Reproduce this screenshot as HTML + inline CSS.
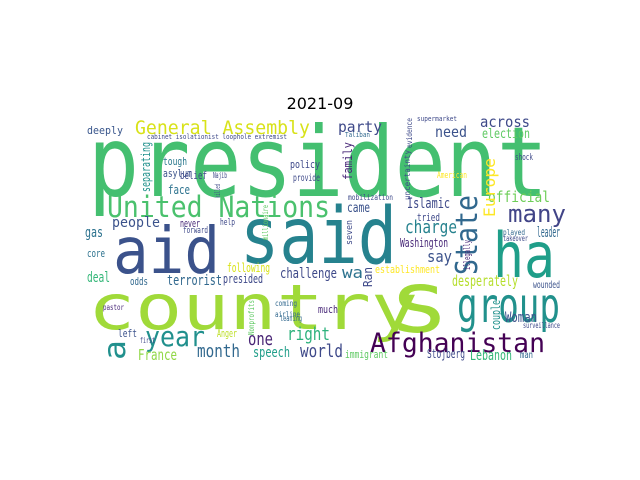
<!DOCTYPE html>
<html><head><meta charset="utf-8"><style>
html,body{margin:0;padding:0;background:#fff;width:640px;height:480px;overflow:hidden}
svg text{font-family:"DejaVu Sans Mono","Liberation Mono",monospace}
</style></head><body>
<svg id="chart" width="640" height="480" xmlns="http://www.w3.org/2000/svg">
<rect x="0" y="0" width="640" height="480" fill="#fff"/>
<text x="320" y="109" text-anchor="middle" font-size="16" fill="#000" style="font-family:'DejaVu Sans','Liberation Sans',sans-serif">2021-09</text>
<g id="cloud"></g>
</svg>
<script>
// words: text, x, baseline y, font size, width, color, rotation
const words = ["president","said","aid","ha","country","s","group","Afghanistan","United Nations","General Assembly","many","State","year","charge","right","one","month","world","party","need","across","election","official","Europe","Islamic","say","desperately","France","Lebanon","speech","people","terrorist","challenge","wa","deeply","gas","face","tough","asylum","belief","policy","never","came","tried","Washington","Woman","immigrant","Stojberg","establishment","following","presided","deal","odds","core","Anger","left","much","leader","family","separating","provide","a","Ran","couple","man","mobilization","Najib","American","supermarket","Taliban","wounded","surveillance","help","forward","pastor","airline","coming","leaning","first","seven","illegally","evidence","uncertainty","Nonprofits","millionaire","cabinet isolationist loophole extremist","shock","played","takeover","killed"];
const xs = [88,240,113,493,88,388,457,370,107,135,508,477,145,405,287,248,197,300,338,435,480,482,488,495,407,427,452,138,470,253,112,167,280,342,87,85,168,163,163,180,290,180,347,417,400,505,345,427,375,227,223,87,130,87,217,118,318,537,352,150,293,125,372,500,520,348,213,437,417,345,533,523,220,183,103,275,275,280,140,352,470,412,410,254,268,147,515,503,503,220];
const ys = [196,263,273,277,329,332,322,352,217,134,222,275,346,233,340,345,357,357,132,137,127,138,202,217,208,262,286,360,360,357,227,285,278,278,134,237,194,165,177,179,168,227,212,221,247,322,358,358,273,272,283,282,285,257,337,337,313,237,180,192,181,360,287,330,358,200,178,178,121,137,288,328,225,233,310,317,306,321,343,245,270,148,200,335,240,139,160,235,241,198];
const sizes = [97,78,64,62,62,86,48,27,29,19,24,30,28,18,18,18,18,18,15,15,15,13,15,16,14,16,15,15,14,14,14,14,14,16,11,14,12,11,11,11,11,11,13,11,12,14,11,12,11,12,12,14,11,11,11,11,11,14,12,12,10,30,12,12,10,8,8,9,7,7,10,8,9,9,8,8,8,8,8,9,9,8,8,8,8,7,9,8,8,7];
const widths = [460,157,107,62,330,62,103,175,223,175,58,80,60,52,43,25,43,43,44,32,50,48,62,59,43,25,66,39,42,37,48,55,57,21,36,18,22,24,29,27,30,20,23,23,48,32,43,38,65,43,40,23,18,18,20,19,20,23,38,50,27,20,20,30,13,45,14,30,40,25,27,37,15,25,21,25,22,22,15,25,30,30,50,35,35,140,18,22,25,14];
const colors = ["#44bf70","#26828e","#3b528b","#1f9e89","#a0da39","#a0da39","#21918c","#440154","#4ac16d","#d8e219","#414487","#31688e","#21908d","#26828e","#2db27d","#482475","#31688e","#3e4989","#3e4989","#3b528b","#3e4989","#5ec962","#6ece58","#fde725","#3e4989","#3b528b","#b5de2b","#8fd744","#35b779","#1f9e89","#3b528b","#31688e","#3e4989","#2c728e","#39568c","#2c728e","#2c728e","#2a788e","#3b528b","#3e4989","#3e4989","#482878","#3b528b","#3e4989","#482878","#3b528b","#5ec962","#3e4989","#fde725","#d8e219","#3e4989","#35b779","#31688e","#2c728e","#bddf26","#3b528b","#482878","#31688e","#482878","#21918c","#3e4989","#21908d","#3e4989","#21918c","#31688e","#3e4989","#3e4989","#fde725","#3e4989","#31688e","#3b528b","#3e4989","#3e4989","#3e4989","#482878","#31688e","#31688e","#31688e","#3e4989","#3e4989","#482878","#3e4989","#3e4989","#5ec962","#5ec962","#3e4989","#3e4989","#31688e","#3e4989","#3e4989"];
const rots = [0,0,0,0,0,0,0,0,0,0,0,-90,0,0,0,0,0,0,0,0,0,0,0,-90,0,0,0,0,0,0,0,0,0,0,0,0,0,0,0,0,0,0,0,0,0,0,0,0,0,0,0,0,0,0,0,0,0,0,-90,-90,0,-90,-90,-90,0,0,0,0,0,0,0,0,0,0,0,0,0,0,0,-90,-90,-90,-90,-90,-90,0,0,0,0,-90];
const NS = "http://www.w3.org/2000/svg";
const g = document.getElementById('cloud');
for (let i = 0; i < words.length; i++) {
  const t = document.createElementNS(NS, 'text');
  t.setAttribute('x', xs[i]);
  t.setAttribute('y', ys[i]);
  t.setAttribute('font-size', sizes[i]);
  t.setAttribute('fill', colors[i]);
  t.setAttribute('textLength', widths[i]);
  t.setAttribute('lengthAdjust', 'spacingAndGlyphs');
  if (rots[i]) t.setAttribute('transform', 'rotate(' + rots[i] + ' ' + xs[i] + ' ' + ys[i] + ')');
  t.textContent = words[i];
  
  
  g.appendChild(t);
}
</script>
</body></html>
